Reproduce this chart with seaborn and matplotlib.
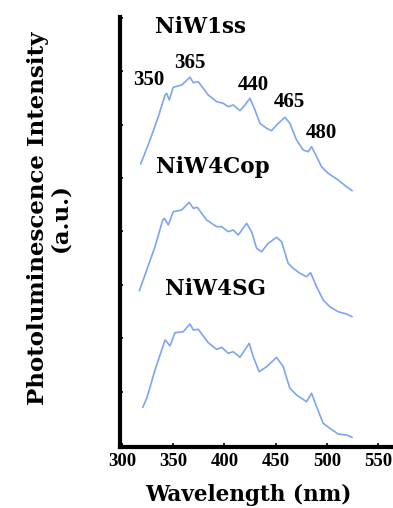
import numpy as np
import pandas as pd
import matplotlib
matplotlib.use("Agg")
import matplotlib.pyplot as plt
import seaborn as sns

# Traced photoluminescence spectra (wavelength in nm, intensity in a.u.; each
# spectrum already carries its own vertical offset in the stacked plot)
wl_niw1ss = [318.2, 327.3, 335.4, 342.0, 343.6, 346.1, 350.0, 358.2, 366.3, 369.6,
             374.4, 384.2, 392.4, 398.8, 403.7, 408.6, 415.1, 420.0, 424.9, 429.8,
             434.6, 441.2, 446.0, 450.9, 459.0, 463.9, 470.4, 476.9, 481.8, 485.1,
             490.0, 494.8, 501.3, 511.0, 519.2, 524.7]
pl_niw1ss = [281.0, 305.0, 328.3, 350.0, 351.7, 345.0, 357.7, 360.0, 367.7, 362.3,
             363.3, 350.0, 343.3, 341.7, 338.3, 340.0, 334.3, 340.0, 346.7, 335.0,
             321.7, 316.7, 314.3, 320.0, 327.7, 321.7, 305.0, 295.0, 293.3, 298.3,
             288.3, 278.3, 271.7, 265.0, 258.3, 254.3]

wl_niw4cop = [316.9, 324.1, 332.2, 339.7, 341.3, 345.2, 350.0, 358.2, 365.6, 369.6,
              373.5, 382.6, 392.4, 397.3, 403.7, 408.6, 413.5, 421.7, 426.5, 431.4,
              436.3, 442.7, 450.9, 455.8, 462.2, 467.1, 473.7, 480.2, 484.1, 490.0,
              496.4, 502.9, 511.0, 519.2, 524.7]
pl_niw4cop = [154.3, 175.0, 198.3, 225.0, 226.7, 220.0, 233.3, 235.0, 242.7, 236.7,
              237.7, 225.0, 218.3, 218.3, 213.3, 215.0, 210.0, 221.7, 213.3, 196.7,
              193.3, 201.7, 207.7, 203.3, 181.7, 176.7, 171.7, 168.3, 172.3, 158.3,
              145.0, 138.3, 133.3, 131.0, 128.3]

wl_niw4sg = [320.2, 324.1, 332.2, 338.7, 342.0, 343.6, 346.8, 351.7, 359.8, 366.3,
             369.6, 374.4, 384.2, 392.4, 397.3, 403.7, 408.6, 415.1, 424.2, 428.1,
             433.9, 441.2, 450.9, 457.4, 463.9, 470.4, 480.2, 485.1, 490.0, 496.4,
             502.9, 511.0, 519.2, 524.7]
pl_niw4sg = [37.7, 46.7, 75.0, 95.0, 105.0, 103.3, 99.0, 112.3, 113.3, 121.0,
             115.0, 115.7, 102.3, 95.7, 97.7, 91.7, 93.3, 87.7, 101.7, 88.3,
             73.3, 78.3, 87.7, 78.3, 56.7, 50.0, 43.3, 51.7, 38.3, 21.7,
             16.7, 11.0, 10.0, 7.7]

samples = ["NiW1ss", "NiW4Cop", "NiW4SG"]
# sample label anchors (wavelength, intensity) at the text baseline
sample_label_pos = [(377.1, 412), (388.4, 272), (390.8, 150)]

# emission band labels on the top spectrum and their anchors
peak_labels = ["350", "365", "440", "465", "480"]
peak_label_pos = [(326.4, 360), (366.4, 377), (427.9, 355), (463.1, 338), (494.3, 307)]

xticks = [300, 350, 400, 450, 500, 550]

df = pd.concat([
    pd.DataFrame({"wavelength": wl_niw1ss, "intensity": pl_niw1ss, "sample": "NiW1ss"}),
    pd.DataFrame({"wavelength": wl_niw4cop, "intensity": pl_niw4cop, "sample": "NiW4Cop"}),
    pd.DataFrame({"wavelength": wl_niw4sg, "intensity": pl_niw4sg, "sample": "NiW4SG"}),
], ignore_index=True)

sns.set_style("ticks")
plt.rcParams["text.color"] = "black"
line_color = "#7ca5f2"

fig = plt.figure(figsize=(3.93, 5.08), dpi=100)
ax = fig.add_axes([120 / 393, 61 / 508, 273 / 393, 430 / 508])

sns.lineplot(data=df, x="wavelength", y="intensity", hue="sample",
             palette={s: line_color for s in samples}, estimator=None,
             linewidth=1.2, legend=False, ax=ax)

ax.set_xlim(298, 564.6)
ax.set_ylim(-2, 428)
ax.set_xticks(xticks)
ax.set_xticklabels([str(t) for t in xticks], family="Liberation Serif",
                   fontweight="bold", fontsize=13.5)
ax.set_yticks(np.arange(0, 428, 53.4))
ax.set_yticklabels([])
ax.tick_params(axis="x", direction="in", length=3, width=1.2, pad=4,
               colors="black", labelcolor="black")
ax.tick_params(axis="y", direction="in", length=2, width=1.2, colors="black")

sns.despine(ax=ax, top=True, right=True)
for side in ("left", "bottom"):
    ax.spines[side].set_linewidth(3)
    ax.spines[side].set_color("black")

ax.set_xlabel("")
ax.set_ylabel("")

for name, (x, y) in zip(samples, sample_label_pos):
    ax.text(x, y, name, ha="center", va="baseline", family="DejaVu Serif",
            fontweight="bold", fontsize=15.5, color="black")

for lab, (x, y) in zip(peak_labels, peak_label_pos):
    ax.text(x, y, lab, ha="center", va="baseline", family="Liberation Serif",
            fontweight="bold", fontsize=15, color="black")

fig.text(248 / 393, 1 - 495 / 508, "Wavelength (nm)", ha="center", va="center",
         family="DejaVu Serif", fontweight="bold", fontsize=15.5, color="black")
fig.text(49.5 / 393, 1 - 218 / 508, "Photoluminescence Intensity\n(a.u.)",
         rotation=90, ha="center", va="center", multialignment="center",
         linespacing=1.0, family="DejaVu Serif", fontweight="bold", fontsize=16.5,
         color="black")

fig.savefig("out.png", dpi=100, facecolor="white")
